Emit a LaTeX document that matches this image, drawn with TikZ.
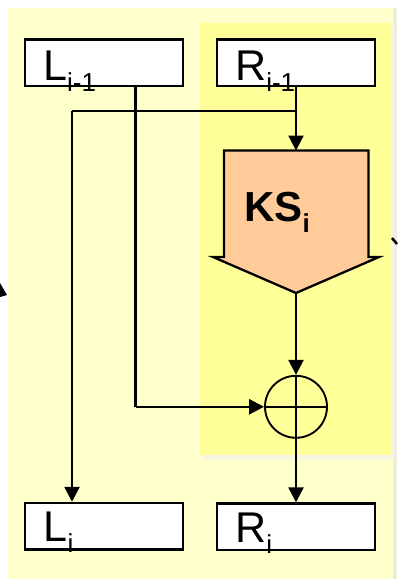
\documentclass[tikz,border=0pt]{standalone}
\usepackage{fontspec}
\setmainfont{Liberation Sans}
\usetikzlibrary{arrows.meta}
\definecolor{paleY}{HTML}{FFFFCC}
\definecolor{brightY}{HTML}{FFFF99}
\definecolor{peach}{HTML}{FFCC99}
\definecolor{edgeG}{HTML}{ECECDC}
\tikzset{
  regbox/.style={draw=black, fill=white, line width=2.5pt, rectangle, minimum width=158pt, minimum height=46.5pt, inner sep=0pt},
  regtext/.style={anchor=base west, inner sep=0pt, font=\fontsize{43}{43}\selectfont},
  conn/.style={line width=2.5pt, -{Triangle[length=15pt,width=15pt]}},
  plain/.style={line width=2.5pt},
  xorc/.style={draw=black, circle, line width=1.9pt, minimum size=62pt, inner sep=0pt},
}
\newcommand{\subtxt}[1]{\raisebox{-11pt}{\fontsize{26}{26}\selectfont #1}}
\begin{document}
\begin{tikzpicture}[x=1pt,y=-1pt]
\useasboundingbox (0,0) rectangle (397,579);
% backgrounds
\fill[edgeG] (393,8) rectangle (397,579);
\fill[paleY] (8,8) rectangle (393,579);
\fill[black!6, opacity=0.5] (203,26) rectangle (396,460);
\fill[black!5, opacity=0.5] (202,25) rectangle (394,457);
\fill[brightY] (200,23) rectangle (392,455);
% cropped fragments at the edges
\fill[black] (0,283) -- (7,295) -- (0,297) -- cycle;
\draw[plain] (392,238) -- (397,244);
% registers
\node[regbox] (Lprev) at (104,62.7) {};
\node[regbox] (Rprev) at (296,62.7) {};
\node[regbox] (Lcur) at (104,526.3) {};
\node[regbox] (Rcur) at (296,526.8) {};
\node[regtext] (tLprev) at (43,80) {L\subtxt{i-1}};
\node[regtext] (tRprev) at (235,80) {R\subtxt{i-1}};
\node[regtext] (tLcur) at (43.5,541.7) {L\subtxt{i}};
\node[regtext] (tRcur) at (235,542.5) {R\subtxt{i}};
% KS block
\coordinate (kstop) at (296,150.5);
\coordinate (kstip) at (296,293);
\filldraw[fill=peach, draw=black, line width=2.3pt, line join=miter]
  (224,150.5) -- (368.5,150.5) -- (368.5,257) -- (379,257) -- (kstip)
  -- (213,257) -- (224,257) -- cycle;
\node[anchor=base west, inner sep=0pt, font=\bfseries\fontsize{42}{42}\selectfont] (ks) at (244,221)
  {KS\raisebox{-11pt}{\fontsize{26}{26}\selectfont i}};
% XOR
\node[xorc] (xor) at (296,406.8) {};
\draw[line width=1.9pt] (xor.north) -- (xor.south) (xor.west) -- (xor.east);
% junction points
\coordinate (jR) at (296,111);
\coordinate (jL) at (72,111);
\coordinate (jX) at (135.5,406.8);
% connectors
\draw[conn] (Rprev.south) -- (kstop);
\draw[plain] (jR) -- (jL);
\draw[conn] (jL) -- (jL |- Lcur.north);
\draw[plain] (Lprev.south -| jX) -- (jX);
\draw[conn] (jX) -- (xor.west);
\draw[conn] (kstip) -- (xor.north);
\draw[conn] (xor.south) -- (Rcur.north);
\end{tikzpicture}
\end{document}
